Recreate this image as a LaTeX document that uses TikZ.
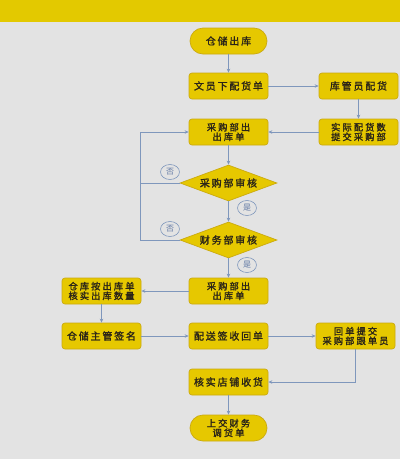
\documentclass[tikz,border=0pt]{standalone}
\usepackage{fontspec}
\setmainfont{Noto Sans CJK SC}
\newfontfamily\boxfont{Noto Sans CJK SC}[FakeBold=1.6, LetterSpace=18]
\newfontfamily\boxfontb{Noto Sans CJK SC}[FakeBold=1.6, LetterSpace=22]
\newfontfamily\lblfont{Noto Sans CJK SC}
\usetikzlibrary{shapes.geometric,arrows.meta}
\definecolor{bg}{HTML}{E3E3E3}
\definecolor{band}{HTML}{E3C900}
\definecolor{boxfill}{HTML}{E6C800}
\definecolor{boxline}{HTML}{CBAA10}
\definecolor{conn}{HTML}{7F97BC}
\definecolor{lbltxt}{HTML}{5F77A3}
\definecolor{txt}{HTML}{2A2418}
\tikzset{
  box/.style={draw=boxline, fill=boxfill, line width=0.7pt, rounded corners=3pt,
    minimum width=79pt, minimum height=26pt, inner sep=0pt, align=center,
    text=txt, font=\boxfont\fontsize{10pt}{10pt}\selectfont},
  twoline/.style={font=\boxfontb\fontsize{9.3pt}{9.6pt}\selectfont},
  term/.style={draw=boxline, fill=boxfill, line width=0.7pt, rounded corners=13pt,
    minimum width=77pt, minimum height=26pt, inner sep=0pt, align=center,
    text=txt, font=\boxfont\fontsize{10pt}{10pt}\selectfont},
  decide/.style={diamond, draw=boxline, fill=boxfill, line width=0.7pt, aspect=2.7,
    minimum width=97pt, minimum height=36pt, inner sep=0pt, text=txt,
    font=\boxfont\fontsize{10pt}{10pt}\selectfont},
  lbl/.style={ellipse, draw=conn, line width=0.6pt, fill=bg, minimum width=19pt,
    minimum height=15pt, inner sep=0pt, text=lbltxt, font=\lblfont\fontsize{8pt}{8pt}\selectfont},
  conn/.style={draw=conn, line width=0.7pt, -{Stealth[length=4pt,width=3.5pt]}},
  plain/.style={draw=conn, line width=0.7pt}
}
\begin{document}
\begin{tikzpicture}[x=1pt,y=-1pt]
\path[fill=bg] (0,0) rectangle (400,459);
\useasboundingbox (0,0) rectangle (400,459);
\path[fill=band] (0,0) rectangle (400,22);

\node[term] (start) at (228.5,41) {仓储出库};
\node[box] (clerk) at (228.5,86) {文员下配货单};
\node[box] (keeper) at (358.5,86) {库管员配货};
\node[box,twoline] (actual) at (358.5,132) {实际配货数\\提交采购部};
\node[box,twoline] (out1) at (228.5,132) {采购部出\\出库单};
\node[decide] (d1) at (228.5,183) {采购部审核};
\node[decide] (d2) at (228.5,240) {财务部审核};
\node[box,twoline] (out2) at (228.5,291) {采购部出\\出库单};
\node[box,twoline] (check) at (101.5,291) {仓库按出库单\\核实出库数量};
\node[box] (sign) at (101.5,336) {仓储主管签名};
\node[box] (recv) at (228.5,336) {配送签收回单};
\node[box,twoline] (submit) at (355.5,336) {回单提交\\采购部跟单员};
\node[box] (shop) at (228.5,382) {核实店铺收货};
\node[term,twoline] (fin) at (228.5,428) {上交财务\\调货单};

\coordinate (lx) at (140,0);
\coordinate (sx) at (355.5,0);

\draw[conn] (start) -- (clerk);
\draw[conn] (clerk) -- (keeper);
\draw[conn] (keeper) -- (actual);
\draw[conn] (actual) -- (out1);
\draw[conn] (out1) -- (d1);
\draw[conn] (d1) -- (d2);
\draw[conn] (d2) -- (out2);
\draw[plain] (d1.west) -- (d1.west -| lx);
\draw[conn] (d2.west) -- (d2.west -| lx) -- (out1.west -| lx) -- (out1.west);
\draw[conn] (out2) -- (check);
\draw[conn] (check) -- (sign);
\draw[conn] (sign) -- (recv);
\draw[conn] (recv) -- (submit);
\draw[conn] (submit.south) -- (shop.east -| sx) -- (shop.east);
\draw[conn] (shop) -- (fin);

\node[lbl] (no1) at (170,172) {否};
\node[lbl] (yes1) at (247,208) {是};
\node[lbl] (no2) at (170,229) {否};
\node[lbl] (yes2) at (247,265) {是};
\end{tikzpicture}
\end{document}
